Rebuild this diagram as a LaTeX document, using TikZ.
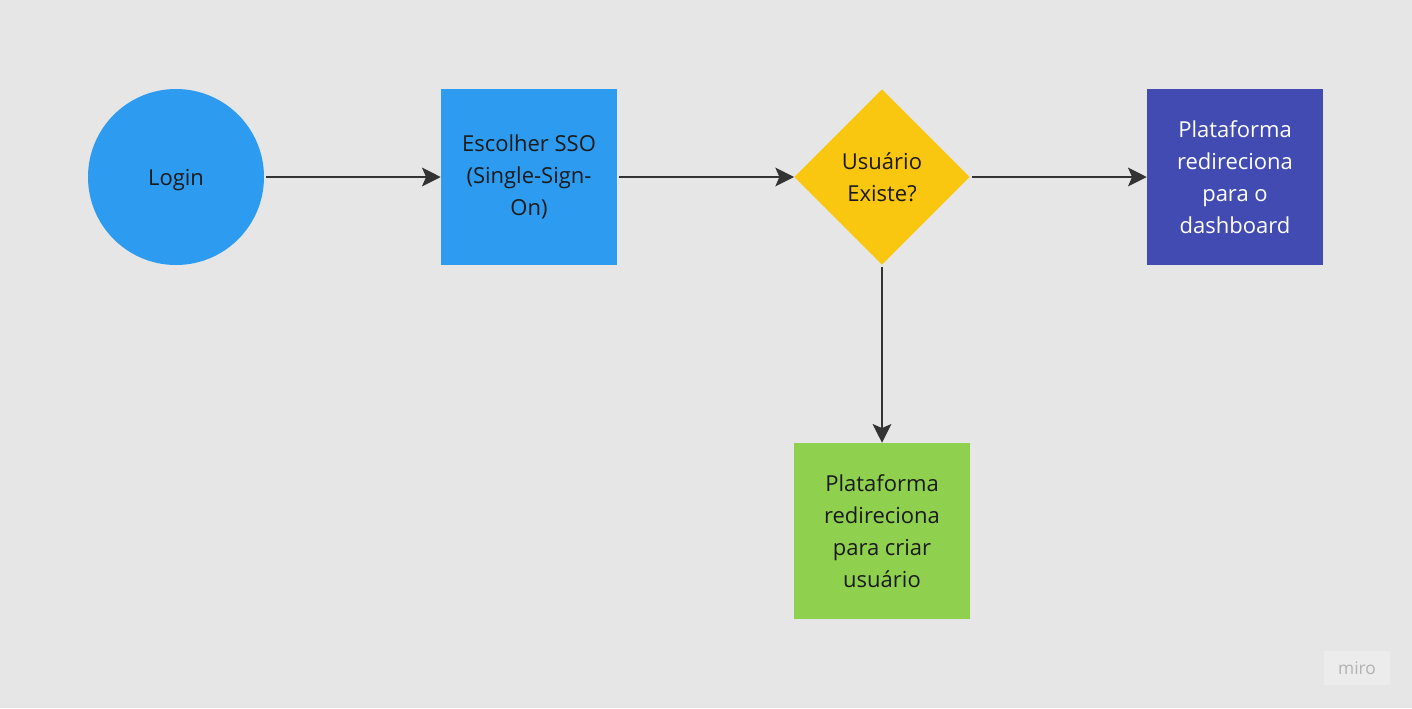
\documentclass[tikz,border=0pt]{standalone}
\usepackage{fontspec}
\setmainfont{Open Sans}
\usetikzlibrary{arrows.meta,shapes.geometric}
\definecolor{bg}{HTML}{E6E6E6}
\definecolor{cblue}{HTML}{2D9BF0}
\definecolor{cyellow}{HTML}{FAC710}
\definecolor{cpurple}{HTML}{414BB2}
\definecolor{cgreen}{HTML}{8FD14F}
\definecolor{cline}{HTML}{333333}
\definecolor{ctext}{HTML}{1A1A1A}
\begin{document}
\begin{tikzpicture}[x=0.75pt,y=-0.75pt,
  lbl/.style={font=\fontsize{16.5}{24}\selectfont, text=ctext, align=center, inner sep=0pt},
  sq/.style={lbl, minimum width=132pt, minimum height=132pt},
  conn/.style={draw=cline, line width=1.5pt, -{Stealth[length=14pt,width=14pt,inset=3pt]}, shorten <=1.5pt}]
\fill[bg] (0,0) rectangle (1412,708);
\useasboundingbox (0,0) rectangle (1412,708);
\node[lbl, circle, fill=cblue, minimum size=132pt, text depth=0pt] (login) at (176,177) {Login};
\node[sq, fill=cblue] (sso) at (529,177) {Escolher SSO\\(Single-Sign-\\On)};
\node[lbl, diamond, fill=cyellow, minimum width=131.5pt, minimum height=131.5pt, aspect=1, inner sep=0pt] (user) at (882,177) {Usuário\\Existe?};
\node[sq, fill=cpurple, text=white] (dash) at (1235,177) {Plataforma\\redireciona\\para o\\dashboard};
\node[sq, fill=cgreen] (criar) at (882,531) {Plataforma\\redireciona\\para criar\\usuário};
\draw[conn] (login) -- (sso);
\draw[conn] (sso) -- (user);
\draw[conn] (user) -- (dash);
\draw[conn] (user) -- (criar);
\node[fill=white, fill opacity=0.25, text opacity=1, text=black!30, font=\fontsize{13}{13}\selectfont, minimum width=49pt, minimum height=25pt, inner sep=0pt] (miro) at (1357,668) {miro};
\end{tikzpicture}
\end{document}
